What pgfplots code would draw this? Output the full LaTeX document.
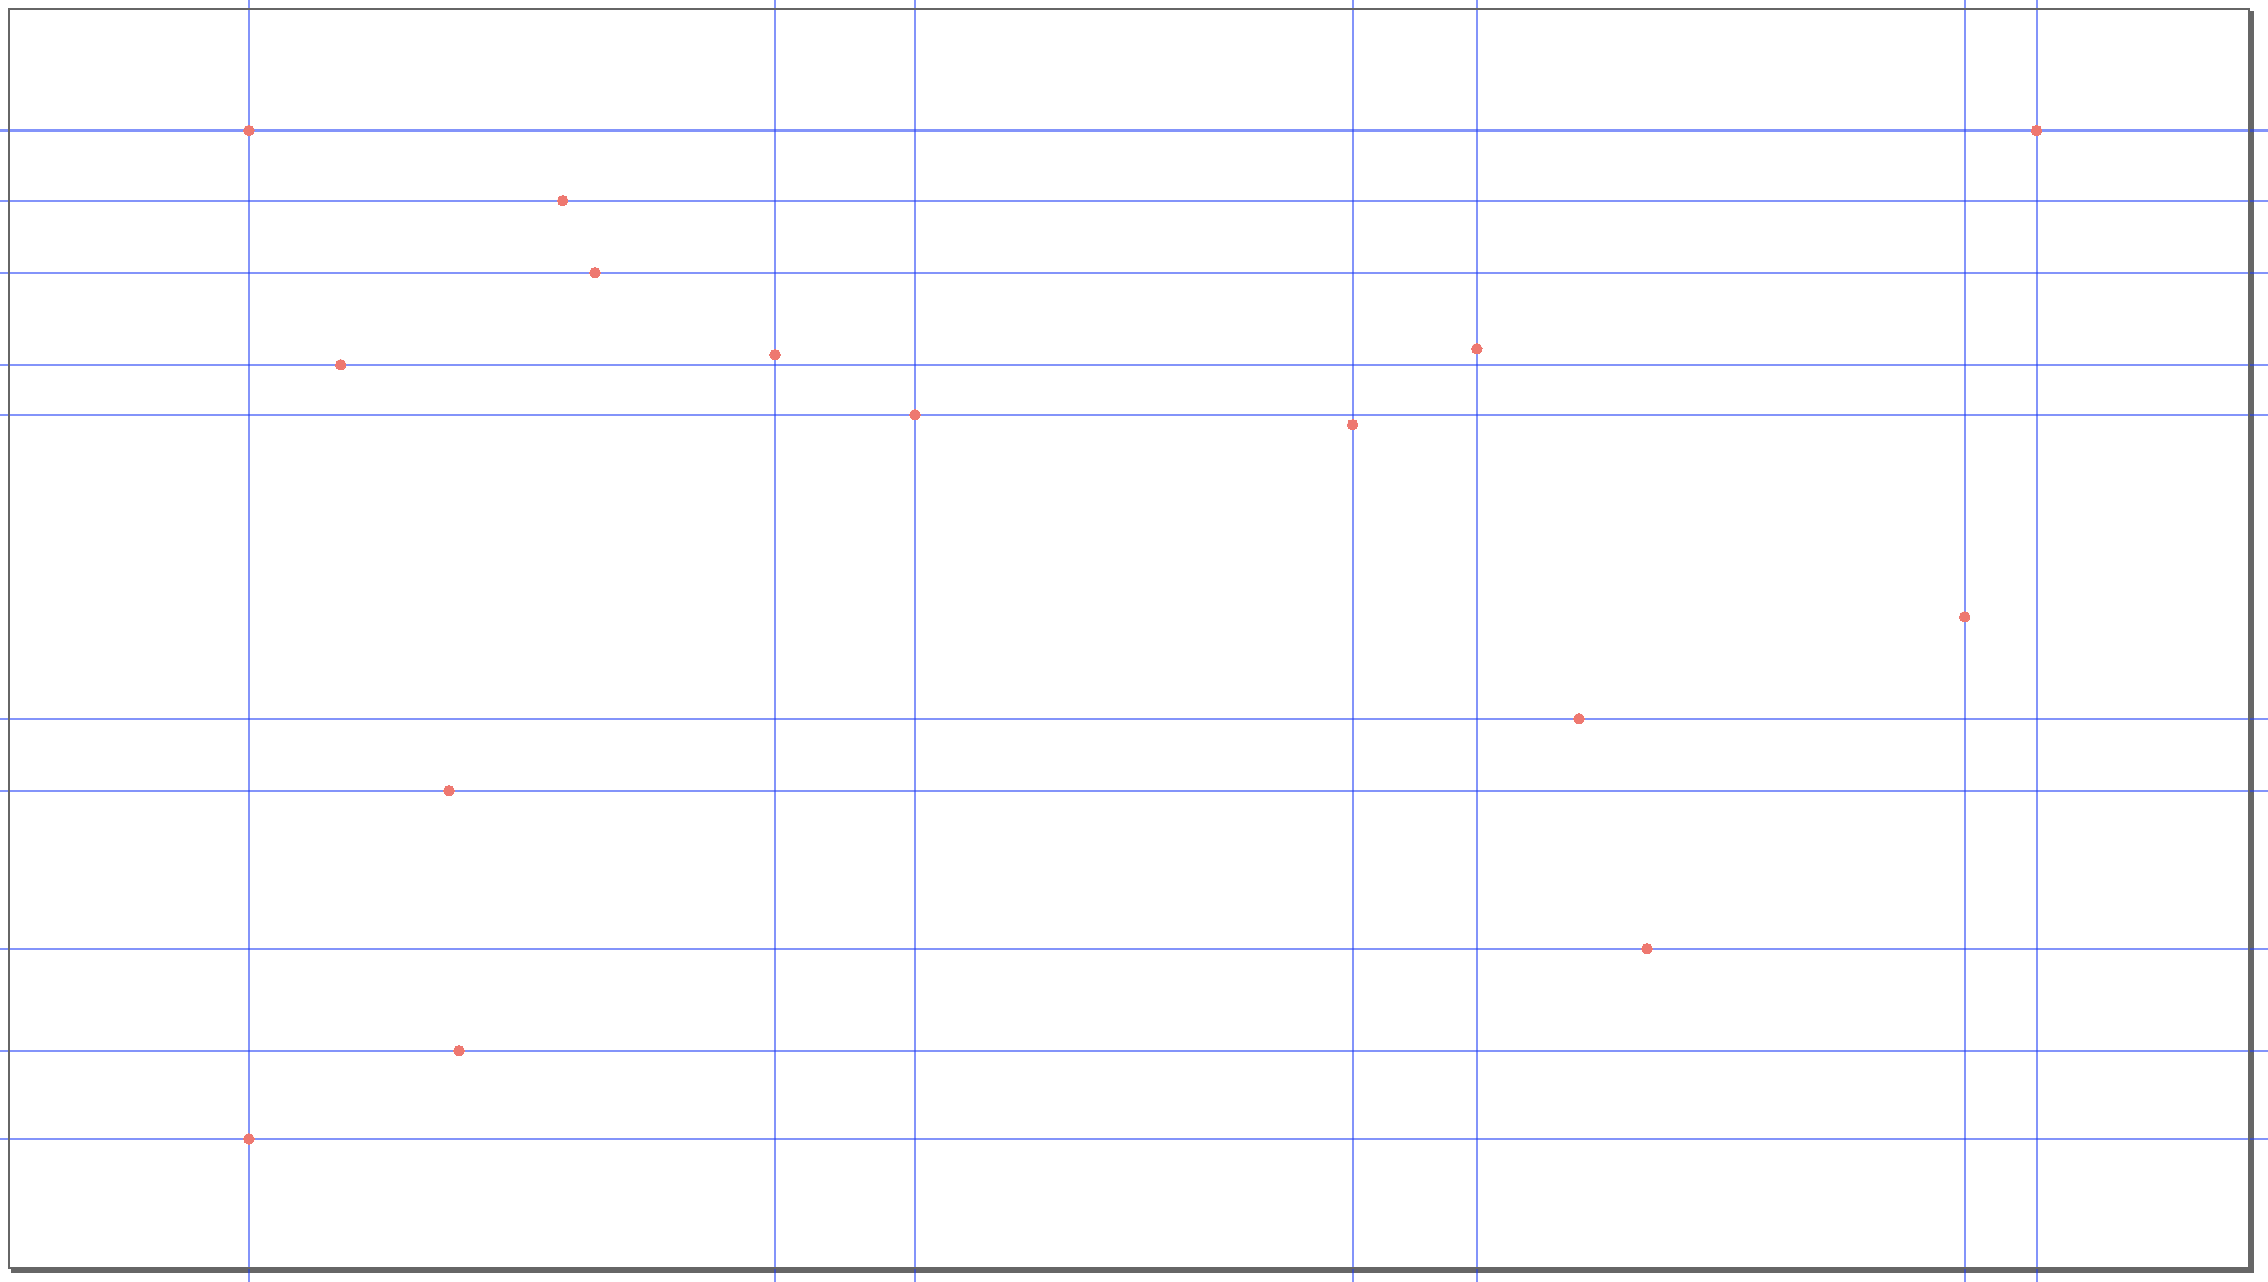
\documentclass[border=0pt]{standalone}
\usepackage{pgfplots}
\pgfplotsset{compat=1.18}
\definecolor{gridblue}{RGB}{30,60,245}
\definecolor{boxgray}{RGB}{102,102,102}
\definecolor{dotred}{RGB}{238,120,112}
\begin{document}
\begin{tikzpicture}
% drop shadow of the frame
\draw[boxgray, line width=1pt, line cap=butt, line join=miter]
  (0.46pt,-0.52pt) -- (448.52pt,-0.52pt) -- (448.52pt,251.46pt);
\begin{axis}[
  at={(0pt,0pt)}, anchor=south west,
  scale only axis, width=448.06pt, height=251.86pt,
  xmin=0, xmax=100, ymin=0, ymax=100,
  axis line style={boxgray, line width=0.45pt},
  xtick={10.72,34.21,40.45,59.99,65.53,87.31,90.52},
  ytick={10.28,17.28,25.38,37.93,43.64,67.78,71.75,79.06,84.78,90.35},
  xticklabels={}, yticklabels={},
  xmajorgrids, ymajorgrids,
  grid style={gridblue, opacity=0.55, line width=0.42pt},
  tick style={gridblue, opacity=0.55, line width=0.42pt},
  major tick length=6pt, tick align=outside,
  xtick pos=both, ytick pos=both,
  minor tick num=0, clip=false,
]
\addplot[only marks, mark=*, mark size=1.05pt, color=dotred,
  mark options={draw=dotred, fill=dotred, line width=0pt}] coordinates {
  (10.72,90.35) (24.73,84.78) (26.17,79.06) (14.82,71.75) (34.21,72.55)
  (40.45,67.78) (59.99,66.99) (65.53,73.02) (90.52,90.35) (87.31,51.74)
  (70.09,43.64) (19.65,37.93) (73.13,25.38) (20.10,17.28) (10.72,10.28)
};
\end{axis}
\pgfresetboundingbox
\path[use as bounding box] (-1.74pt,-2.74pt) rectangle (451.86pt,253.66pt);
\end{tikzpicture}
\end{document}
